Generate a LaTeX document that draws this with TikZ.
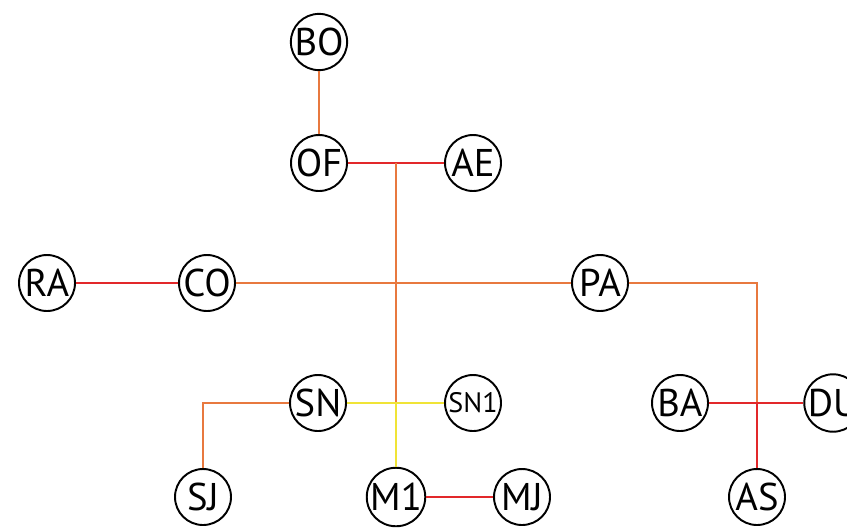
\documentclass[tikz,border=0pt]{standalone}
\usepackage{fontspec}
\setmainfont{PT Sans}
\definecolor{edgeorange}{HTML}{E8793F}
\definecolor{edgered}{HTML}{E2282A}
\definecolor{edgeyellow}{HTML}{F0E436}
\begin{document}
\begin{tikzpicture}[x=0.02cm,y=-0.02cm,
  station/.style={circle,draw,line width=1.1pt,minimum size=1.12cm,inner sep=0pt,font=\fontsize{22}{22}\selectfont},
  small/.style={font=\fontsize{16}{16}\selectfont},
  orangeline/.style={edgeorange,line width=1pt},
  redline/.style={edgered,line width=1pt},
  yellowline/.style={edgeyellow,line width=1pt}]
\useasboundingbox (0,0) rectangle (847,528);
\clip (0,0) rectangle (847,528);
\node [station] (bo) at (319,42) {BO};
\node [station] (of) at (319,163) {OF};
\node [station] (ae) at (473,163) {AE};
\node [station] (ra) at (47,283) {RA};
\node [station] (co) at (207,283) {CO};
\node [station] (pa) at (600,283) {PA};
\node [station] (sn) at (318,403) {SN};
\node [station,small] (sn1) at (473,403) {SN1};
\node [station] (ba) at (680,403) {BA};
\node [station] (du) at (833,403) {DU};
\node [station] (sj) at (203,497) {SJ};
\node [station] (m1) at (396,497) {M1};
\node [station] (mj) at (522,497) {MJ};
\node [station] (as) at (757,497) {AS};
\coordinate (jof) at (396,163);
\coordinate (jsn) at (396,403);
\coordinate (jpa) at (757,283);
\coordinate (jba) at (757,403);
% connectors
\draw [orangeline] (bo) -- (of);
\draw [redline] (of) -- (ae);
\draw [redline] (ra) -- (co);
\draw [orangeline] (co) -- (pa);
\draw [orangeline] (jof) -- (jsn);
\draw [yellowline] (jsn) -- (m1);
\draw [yellowline] (sn) -- (sn1);
\draw [orangeline] (sn) -| (sj);
\draw [redline] (m1) -- (mj);
\draw [orangeline] (pa) -- (jpa) -- (jba);
\draw [redline] (jba) -- (as);
\draw [redline] (ba) -- (du);
\end{tikzpicture}
\end{document}
